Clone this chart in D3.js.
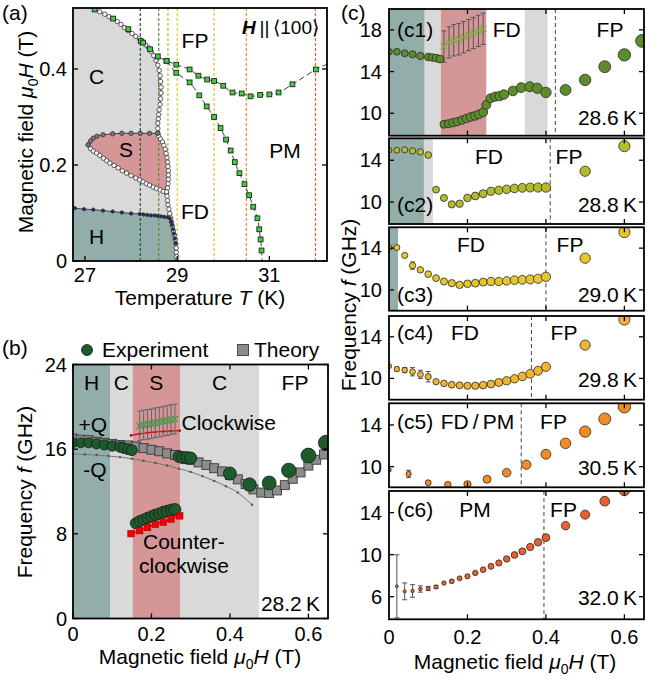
<!DOCTYPE html>
<html><head><meta charset="utf-8">
<script src="https://cdn.jsdelivr.net/npm/d3@7"></script>
<style>
body{margin:0;background:#fff}
svg{font-family:"Liberation Sans",Arial,Helvetica,sans-serif;display:block}
</style>
</head><body>
<svg id="chart" width="664" height="681"></svg>
<script>
// ---------------- DATA ----------------
// Panel (a): phase diagram (T in K, mu0H in T)
const aCUpper = [[27.21,0.524],[27.32,0.519],[27.43,0.514],[27.52,0.509],[27.61,0.505],[27.7,0.499],[27.78,0.493],[27.86,0.486],[27.94,0.480],[28.02,0.474],[28.1,0.468],[28.18,0.463],[28.25,0.457],[28.32,0.450],[28.38,0.444],[28.44,0.436],[28.49,0.428],[28.54,0.418],[28.58,0.408],[28.61,0.397],[28.63,0.386],[28.64,0.374],[28.65,0.362],[28.65,0.350],[28.64,0.338],[28.63,0.326],[28.61,0.315],[28.6,0.305],[28.59,0.296],[28.58,0.287],[28.58,0.276],[28.58,0.266]];
const aSRight = [[28.6,0.26],[28.64,0.254],[28.68,0.248],[28.71,0.241],[28.74,0.233],[28.76,0.224],[28.78,0.215],[28.79,0.206],[28.8,0.197],[28.81,0.188],[28.81,0.179],[28.81,0.170],[28.8,0.161],[28.79,0.152],[28.77,0.144]];
const aCLower = [[28.78,0.135],[28.79,0.126],[28.8,0.117],[28.82,0.108],[28.84,0.099],[28.86,0.090],[28.88,0.081],[28.9,0.072],[28.92,0.063],[28.94,0.054],[28.96,0.045],[28.97,0.036],[28.98,0.027],[28.98,0.018],[28.99,0.009],[28.99,0]];
const aSTop = [[27.07,0.242],[27.12,0.25],[27.18,0.256],[27.26,0.26],[27.39,0.263],[27.6,0.265],[27.8,0.266],[28.0,0.266],[28.2,0.266],[28.4,0.266],[28.58,0.266]];
const aSBottom = [[27.07,0.242],[27.12,0.234],[27.18,0.229],[27.25,0.225],[27.32,0.22],[27.4,0.214],[27.47,0.209],[27.54,0.204],[27.63,0.199],[27.72,0.194],[27.81,0.188],[27.9,0.183],[28.0,0.178],[28.1,0.173],[28.18,0.169],[28.26,0.165],[28.33,0.161],[28.4,0.158],[28.48,0.154],[28.55,0.151],[28.63,0.148],[28.7,0.145],[28.77,0.142]];
const aHBoundary = [[26.78,0.110],[26.98,0.108],[27.18,0.107],[27.39,0.105],[27.6,0.103],[27.8,0.101],[28.0,0.099],[28.19,0.098],[28.27,0.097],[28.35,0.096],[28.43,0.095],[28.51,0.095],[28.58,0.094],[28.65,0.093],[28.72,0.092],[28.79,0.091],[28.84,0.089],[28.87,0.082],[28.89,0.075],[28.91,0.066],[28.93,0.057],[28.95,0.047],[28.97,0.037]];
const aFP = [[27.21,0.524],[27.61,0.505],[27.94,0.483],[28.21,0.458],[28.26,0.455],[28.41,0.441],[28.58,0.426],[28.77,0.417],[28.98,0.409],[29.27,0.399],[29.46,0.386],[29.65,0.378],[29.80,0.375],[30.0,0.365],[30.20,0.351],[30.40,0.349],[30.59,0.343],[30.80,0.346],[31.0,0.347],[31.2,0.351],[31.5,0.368],[32.01,0.399]];
const aFPExt = [[32.25,0.41]];
const aFD = [[28.77,0.417],[28.98,0.392],[29.27,0.372],[29.48,0.345],[29.64,0.322],[29.80,0.300],[29.94,0.277],[30.06,0.253],[30.16,0.230],[30.25,0.206],[30.35,0.183],[30.46,0.160],[30.56,0.137],[30.65,0.113],[30.74,0.089],[30.78,0.066],[30.81,0.045],[30.83,0.022]];
const aFDExt = [[30.84,0]];
const aTempLines = [28.2, 28.6, 28.8, 29.0, 29.8, 30.5, 32.0];
const aXTicks = [27, 29, 31];
const aYTicks = [0, 0.2, 0.4];

// Panel (b): 28.2 K spectra (field T, frequency GHz)
const bPhases = [["H",0,0.095],["C",0.095,0.152],["S",0.152,0.273],["C",0.273,0.474],["FP",0.474,0.65]];
const bExpUpper = [[0.0,16.6],[0.02,16.6],[0.04,16.6],[0.06,16.5],[0.08,16.4],[0.10,16.3],[0.12,16.2],[0.13,16.1],[0.14,16.0],[0.15,15.9]];
const bExpMid = [[0.27,15.3],[0.28,15.2],[0.29,15.2],[0.30,15.15],[0.40,13.7],[0.45,12.65],[0.50,12.8],[0.55,14.0],[0.60,15.4],[0.645,16.6]];
const bExpLower = [[0.16,9.0],[0.17,9.2],[0.18,9.35],[0.19,9.5],[0.20,9.65],[0.21,9.8],[0.22,9.9],[0.23,10.05],[0.24,10.15],[0.25,10.25],[0.26,10.3]];
const bTheory = [[0.0,17.0],[0.02,16.9],[0.04,16.85],[0.06,16.7],[0.08,16.6],[0.10,16.5],[0.12,16.4],[0.14,16.35],[0.16,16.25],[0.18,16.1],[0.20,15.95],[0.22,15.8],[0.24,15.6],[0.26,15.45],[0.28,15.25],[0.30,15.0],[0.32,14.75],[0.34,14.5],[0.36,14.2],[0.38,13.9],[0.40,13.55],[0.42,13.15],[0.44,12.7],[0.46,12.2],[0.48,11.9],[0.50,11.85],[0.52,12.1],[0.54,12.6],[0.56,13.2],[0.58,13.8],[0.60,14.45],[0.62,15.0],[0.64,15.5]];
const bMinusQ = [[0,15.55],[0.03,15.5],[0.06,15.45],[0.09,15.35],[0.12,15.25],[0.15,15.1],[0.18,14.9],[0.21,14.7],[0.24,14.45],[0.27,14.15],[0.30,13.85],[0.33,13.45],[0.36,13.0],[0.39,12.5],[0.42,11.9],[0.456,10.75]];
const bCcwTheory = [[0.148,8.02],[0.17,8.3],[0.19,8.6],[0.21,8.9],[0.23,9.1],[0.25,9.4],[0.272,9.7]];
const bCwTheory = [[0.148,17.3],[0.17,17.45],[0.19,17.55],[0.21,17.62],[0.23,17.68],[0.25,17.72],[0.272,17.75]];
const bCwExp = [[0.17,18.2],[0.18,18.3],[0.19,18.35],[0.20,18.4],[0.21,18.5],[0.22,18.55],[0.23,18.65],[0.24,18.7],[0.25,18.8],[0.26,18.85]];
const bCwErr = 1.4;
const bYTicks = [0, 8, 16, 24];
const fieldTicks = [0, 0.2, 0.4, 0.6];

// Panel (c): spectra at several temperatures
const c1Main = [[0,15.9],[0.02,15.9],[0.04,15.75],[0.06,15.65],[0.08,15.5],[0.10,15.4],[0.11,15.35],[0.12,15.3],[0.13,15.2],
  [0.14,8.94],[0.152,9.0],[0.163,9.1],[0.174,9.2],[0.186,9.35],[0.197,9.5],[0.208,9.65],[0.219,9.75],[0.229,9.9],[0.24,10.1],[0.248,10.8],[0.259,11.44],[0.271,11.6],[0.282,11.65],[0.293,11.8],[0.316,12.14],[0.337,12.46],[0.359,12.55],[0.378,12.4],[0.40,12.0],
  [0.45,12.24],[0.50,13.2],[0.55,14.47],[0.60,15.6],[0.645,16.94]];
const c1Cw = [[0.14,16.4],[0.153,16.8],[0.165,17.0],[0.178,17.1],[0.19,17.3],[0.203,17.5],[0.215,17.7],[0.228,17.9],[0.24,18.1]];
const c1CwErr = 1.5;
const c2Main = [[0,14.96],[0.02,14.96],[0.04,15.0],[0.06,14.9],[0.08,14.8],[0.10,14.5],[0.12,11.19],[0.14,10.39],[0.16,9.78],[0.18,9.84],[0.20,10.39],[0.22,10.58],[0.24,10.8],[0.26,11.03],[0.28,11.13],[0.30,11.22],[0.32,11.3],[0.34,11.36],[0.36,11.39],[0.38,11.39],[0.40,11.39],[0.50,12.95],[0.60,15.35]];
const c3Main = [[0,14.06],[0.02,14.06],[0.04,13.3],[0.06,12.33],[0.08,11.92],[0.10,11.5],[0.12,11.12],[0.14,10.8],[0.16,10.64],[0.18,10.48],[0.20,10.58],[0.22,10.64],[0.24,10.74],[0.26,10.8],[0.28,10.8],[0.30,10.86],[0.32,10.93],[0.34,10.96],[0.36,11.0],[0.38,11.06],[0.40,11.25],[0.50,13.04],[0.60,15.54]];
const c3Err = [[0.06,0.35],[0.08,0.2]];
const c4Main = [[0,11.18],[0.02,10.9],[0.04,10.8],[0.06,10.64],[0.08,10.38],[0.10,10.16],[0.12,9.68],[0.14,9.52],[0.16,9.39],[0.18,9.33],[0.20,9.29],[0.22,9.29],[0.24,9.35],[0.26,9.45],[0.28,9.61],[0.30,9.77],[0.32,9.96],[0.34,10.19],[0.36,10.44],[0.38,10.73],[0.40,11.11],[0.50,13.2],[0.60,15.66]];
const c4Err = [[0.02,0.2],[0.04,0.25],[0.06,0.4],[0.08,0.4],[0.10,0.5]];
const c5Main = [[0,9.68],[0.05,9.3],[0.10,8.46],[0.15,8.27],[0.20,8.31],[0.25,8.79],[0.30,9.42],[0.35,10.19],[0.40,11.19],[0.45,12.24],[0.50,13.36],[0.55,14.58],[0.60,15.76]];
const c5Err = [[0.05,0.35],[0.10,0.15],[0.20,0.15]];
const c6Main = [[0.02,6.99],[0.04,6.51],[0.06,6.55],[0.08,6.73],[0.10,6.78],[0.12,6.93],[0.14,7.3],[0.16,7.47],[0.18,7.75],[0.20,7.94],[0.22,8.26],[0.24,8.57],[0.26,8.89],[0.28,9.21],[0.30,9.59],[0.32,9.97],[0.34,10.32],[0.36,10.73],[0.38,11.18],[0.40,11.62],[0.45,12.76],[0.50,13.81],[0.55,15.09],[0.60,16.1]];
const c6Err = [[0.02,3.0],[0.04,0.8],[0.06,0.6],[0.08,0.3],[0.10,0.2],[0.12,0.15],[0.16,0.15]];
const cTemps = ["28.6", "28.8", "29.0", "29.8", "30.5", "32.0"];

// ---------------- STYLE ----------------
const COL = {H:"#93adab", C:"#d9d9d9", S:"#d49696", FP:"#ffffff"};
const tColors = ["#1d5a2c","#5e8c2a","#b4bb2c","#e4c62e","#f0b52e","#f08c22","#e8602c"];
const FS = 21, TFS = 20;
const svg = d3.select("#chart");
const defs = svg.append("defs");
let clipId = 0;
function clip(x0,y0,x1,y1){const id="cl"+(clipId++);defs.append("clipPath").attr("id",id).append("rect").attr("x",x0).attr("y",y0).attr("width",x1-x0).attr("height",y1-y0);return "url(#"+id+")";}
function txt(g,x,y,s,o={}){return g.append("text").attr("x",x).attr("y",y).attr("text-anchor",o.anchor||"start").attr("font-size",o.size||FS).attr("font-style",o.style||null).attr("fill","#000").text(s);}
function fieldTitle(g,x,y,rot){
  const t=g.append("text").attr("font-size",21).attr("text-anchor","middle").attr("transform",`translate(${x},${y})`+(rot?" rotate(-90)":""));
  t.append("tspan").text("Magnetic field ");
  t.append("tspan").attr("font-style","italic").text("\u03BC");
  t.append("tspan").attr("font-size",14).attr("dy",5).text("0");
  t.append("tspan").attr("font-style","italic").attr("dy",-5).text("H");
  t.append("tspan").text(" (T)");
}
function freqTitle(g,x,y){
  const t=g.append("text").attr("font-size",21).attr("text-anchor","middle").attr("transform",`translate(${x},${y}) rotate(-90)`);
  t.append("tspan").text("Frequency ");
  t.append("tspan").attr("font-style","italic").text("f");
  t.append("tspan").text(" (GHz)");
}
function frameTicks(g,xs,ys,xt,yt,opt={}){
  const [x0,x1]=xs.range(), [y0,y1]=ys.range();
  const L=5;
  xt.forEach(v=>{const X=xs(v);
    g.append("line").attr("x1",X).attr("x2",X).attr("y1",y0).attr("y2",y0-L).attr("stroke","#000").attr("stroke-width",1.3);
    if(opt.top!==false) g.append("line").attr("x1",X).attr("x2",X).attr("y1",y1).attr("y2",y1+L).attr("stroke","#000").attr("stroke-width",1.3);});
  yt.forEach(v=>{const Y=ys(v);
    g.append("line").attr("x1",x0).attr("x2",x0+L).attr("y1",Y).attr("y2",Y).attr("stroke","#000").attr("stroke-width",1.3);
    g.append("line").attr("x1",x1).attr("x2",x1-L).attr("y1",Y).attr("y2",Y).attr("stroke","#000").attr("stroke-width",1.3);});
  g.append("rect").attr("x",x0).attr("y",y1).attr("width",x1-x0).attr("height",y0-y1).attr("fill","none").attr("stroke","#000").attr("stroke-width",1.8);
}

// ================= PANEL (a) =================
{
  const g=svg.append("g");
  const ax=d3.scaleLinear().domain([26.74,32.25]).range([73,327]);
  const ay=d3.scaleLinear().domain([0,0.527]).range([261,8]);
  const gc=g.append("g").attr("clip-path",clip(73,8,327,261));
  const ln=d3.line().x(d=>ax(d[0])).y(d=>ay(d[1]));
  const [T0]=ax.domain(), Hmax=ay.domain()[1];
  const cBound=[...aCUpper,...aSRight,...aCLower];
  gc.append("path").attr("d",ln([[T0,0],[T0,Hmax],[aCUpper[0][0]-0.07,Hmax],...cBound])+"Z").attr("fill",COL.C);
  gc.append("path").attr("d",ln([...aSTop,...aSRight,...aSBottom.slice().reverse()])+"Z").attr("fill",COL.S);
  gc.append("path").attr("d",ln([[T0,0],[T0,aHBoundary[0][1]],...aHBoundary,[aCLower[aCLower.length-1][0],0]])+"Z").attr("fill",COL.H);
  aTempLines.forEach((t,i)=>gc.append("line").attr("x1",ax(t)).attr("x2",ax(t)).attr("y1",ay(0)).attr("y2",ay(Hmax)).attr("stroke",tColors[i]).attr("stroke-width",1.2).attr("stroke-dasharray","3,2"));
  [cBound,aSTop,aSBottom,aHBoundary].forEach(d=>gc.append("path").attr("d",ln(d)).attr("fill","none").attr("stroke","#333").attr("stroke-width",0.9));
  const cl=d3.line().curve(d3.curveCatmullRom).x(d=>ax(d[0])).y(d=>ay(d[1]));
  gc.append("path").attr("d",cl([...aFP,...aFPExt])).attr("fill","none").attr("stroke","#444").attr("stroke-width",1).attr("stroke-dasharray","6,3");
  gc.append("path").attr("d",cl([...aFD,...aFDExt])).attr("fill","none").attr("stroke","#444").attr("stroke-width",1).attr("stroke-dasharray","6,3");
  const dots=(d,fill,r)=>gc.append("g").selectAll("circle").data(d).join("circle").attr("cx",p=>ax(p[0])).attr("cy",p=>ay(p[1])).attr("r",r).attr("fill",fill).attr("stroke","#333").attr("stroke-width",0.8);
  dots(aSBottom,"#fff",2.2); dots(cBound,"#fff",2.2); dots(aSTop,"#777",2.2); dots(aHBoundary,"#1c2c70",1.7);
  gc.append("g").selectAll("rect").data([...aFP,...aFD]).join("rect").attr("x",p=>ax(p[0])-2.4).attr("y",p=>ay(p[1])-2.4).attr("width",4.8).attr("height",4.8).attr("fill","#3fcf3f").attr("stroke","#222").attr("stroke-width",0.9);
  txt(g,96.7,83.5,"C",{anchor:"middle"}); txt(g,126,157,"S",{anchor:"middle"}); txt(g,96.7,243.5,"H",{anchor:"middle"});
  txt(g,195,47.5,"FP",{anchor:"middle"}); txt(g,285,157.5,"PM",{anchor:"middle"}); txt(g,195,218.5,"FD",{anchor:"middle"});
  const ht=g.append("text").attr("x",319).attr("y",33.5).attr("text-anchor","end").attr("font-size",19);
  ht.append("tspan").attr("font-weight","bold").attr("font-style","italic").text("H");
  ht.append("tspan").text("\u2009||\u2009\u27E8100\u27E9");
  frameTicks(g,ax,ay,aXTicks,aYTicks,{top:false});
  aYTicks.forEach(v=>txt(g,67,ay(v)+7,v===0?"0":d3.format(".1f")(v),{anchor:"end",size:TFS}));
  aXTicks.forEach(v=>txt(g,ax(v),282,String(v),{anchor:"middle",size:TFS}));
  const tt=g.append("text").attr("x",200).attr("y",304.5).attr("text-anchor","middle").attr("font-size",21);
  tt.append("tspan").text("Temperature "); tt.append("tspan").attr("font-style","italic").text("T"); tt.append("tspan").text(" (K)");
  fieldTitle(g,33,132,true);
  txt(g,2,20,"(a)",{size:21});
}

// ================= PANEL (b) =================
{
  const g=svg.append("g");
  const bx=d3.scaleLinear().domain([0,0.65]).range([73,328]);
  const by=d3.scaleLinear().domain([0,24]).range([618.5,364.5]);
  const gc=g.append("g").attr("clip-path",clip(73,364.5,328,618.5));
  bPhases.forEach(p=>gc.append("rect").attr("x",bx(p[1])).attr("y",by(24)).attr("width",bx(p[2])-bx(p[1])).attr("height",by(0)-by(24)).attr("fill",COL[p[0]]));
  const ln=d3.line().curve(d3.curveCatmullRom).x(d=>bx(d[0])).y(d=>by(d[1]));
  gc.append("path").attr("d",ln(bMinusQ)).attr("fill","none").attr("stroke","#777").attr("stroke-width",1);
  gc.append("g").selectAll("circle").data(bMinusQ).join("circle").attr("cx",d=>bx(d[0])).attr("cy",d=>by(d[1])).attr("r",1.2).attr("fill","#555");
  gc.append("g").selectAll("rect").data(bTheory).join("rect").attr("x",d=>bx(d[0])-4.5).attr("y",d=>by(d[1])-4.5).attr("width",9).attr("height",9).attr("fill","#8c8c8c").attr("stroke","#3a3a3a").attr("stroke-width",0.9);
  const rB=d3.scaleLinear().domain([0,0.6]).range([4.8,7.4]);
  gc.append("g").selectAll("circle").data([...bExpUpper,...bExpMid,...bExpLower]).join("circle").attr("cx",d=>bx(d[0])).attr("cy",d=>by(d[1])).attr("r",d=>rB(d[0])).attr("fill","#1d5a2c").attr("stroke","#1a1a1a").attr("stroke-width",0.8);
  gc.append("path").attr("d",ln(bCcwTheory)).attr("fill","none").attr("stroke","#e00000").attr("stroke-width",1.2);
  gc.append("g").selectAll("rect").data(bCcwTheory).join("rect").attr("x",d=>bx(d[0])-3.3).attr("y",d=>by(d[1])-3.3).attr("width",6.6).attr("height",6.6).attr("fill","#f00000").attr("stroke","#900").attr("stroke-width",0.5);
  gc.append("path").attr("d",ln(bCwTheory)).attr("fill","none").attr("stroke","#e00000").attr("stroke-width",1.2);
  gc.append("g").selectAll("circle").data(bCwTheory).join("circle").attr("cx",d=>bx(d[0])).attr("cy",d=>by(d[1])).attr("r",1.3).attr("fill","#c00");
  const ge=gc.append("g").attr("stroke","#666").attr("stroke-width",1);
  bCwExp.forEach(d=>{const X=bx(d[0]),y1=by(d[1]+bCwErr),y2=by(d[1]-bCwErr);
    ge.append("line").attr("x1",X).attr("x2",X).attr("y1",y1).attr("y2",y2);
    ge.append("line").attr("x1",X-2.5).attr("x2",X+2.5).attr("y1",y1).attr("y2",y1);
    ge.append("line").attr("x1",X-2.5).attr("x2",X+2.5).attr("y1",y2).attr("y2",y2);});
  const gx=gc.append("g").attr("stroke","#4f9a4a").attr("stroke-width",1.3);
  bCwExp.forEach(d=>{const X=bx(d[0]),Y=by(d[1]),s=3.2;
    gx.append("line").attr("x1",X-s).attr("x2",X+s).attr("y1",Y-s).attr("y2",Y+s);
    gx.append("line").attr("x1",X-s).attr("x2",X+s).attr("y1",Y+s).attr("y2",Y-s);});
  bPhases.forEach(p=>txt(g,p[0]==="FP"?295:bx((p[1]+p[2])/2),390,p[0],{anchor:"middle"}));
  txt(g,92.7,432,"+Q",{anchor:"middle"}); txt(g,95,477,"-Q",{anchor:"middle"});
  txt(g,181.5,429.5,"Clockwise"); txt(g,143,548.5,"Counter-"); txt(g,139,573,"clockwise");
  txt(g,320,610.5,"28.2\u2009K",{anchor:"end"});
  frameTicks(g,bx,by,fieldTicks,bYTicks);
  bYTicks.forEach(v=>txt(g,67,by(v)+7,String(v),{anchor:"end",size:TFS}));
  fieldTicks.forEach(v=>txt(g,bx(v),640.5,v===0?"0":d3.format(".1f")(v),{anchor:"middle",size:TFS}));
  fieldTitle(g,200,664,false);
  freqTitle(g,32,492);
  g.append("circle").attr("cx",87).attr("cy",350).attr("r",5.5).attr("fill","#1d5a2c").attr("stroke","#1a1a1a").attr("stroke-width",0.8);
  txt(g,102,357,"Experiment");
  g.append("rect").attr("x",237.5).attr("y",344.5).attr("width",11).attr("height",11).attr("fill","#8c8c8c").attr("stroke","#3a3a3a").attr("stroke-width",0.9);
  txt(g,254,357,"Theory");
  txt(g,2,355,"(b)",{size:21});
}

// ================= PANEL (c) =================
{
  const cx=d3.scaleLinear().domain([0,0.65]).range([389,644]);
  const panels=[
    {name:"c1",top:9,bottom:135.7,dom:[7.85,20],yt:[10,14,18],data:c1Main,err:[],col:tColors[1],r:[3.3,6.2],
     regions:[["H",0,0.091],["C",0.091,0.132],["S",0.132,0.248],["C",0.346,0.404]],dash:0.424,
     labels:[["(c1)",397,36.5,"start"],["FD",506.7,36.5,"middle"],["FP",610,36.5,"middle"]],tY:125},
    {name:"c2",top:138.3,bottom:224,dom:[7.9,16.1],yt:[10,14],data:c2Main,err:[],col:tColors[2],r:[2.9,5.6],
     regions:[["H",0,0.089],["C",0.089,0.112]],dash:0.411,
     labels:[["(c2)",397,211.5,"start"],["FD",489,163.5,"middle"],["FP",569,163.5,"middle"]],tY:211.5},
    {name:"c3",top:227.3,bottom:310.7,dom:[8.0,16.0],yt:[10,14],data:c3Main,err:c3Err,col:tColors[3],r:[2.9,5.6],
     regions:[["H",0,0.023]],dash:0.40,
     labels:[["(c3)",397,301.5,"start"],["FD",471,251.5,"middle"],["FP",570,251.5,"middle"]],tY:301.5},
    {name:"c4",top:316,bottom:399.7,dom:[7.95,16.0],yt:[10,14],data:c4Main,err:c4Err,col:tColors[4],r:[2.6,5.6],
     regions:[],dash:0.363,
     labels:[["(c4)",397,340,"start"],["FD",465,340,"middle"],["FP",564,340,"middle"]],tY:386.5},
    {name:"c5",top:403.3,bottom:487.3,dom:[8.02,16.08],yt:[10,14],data:c5Main,err:c5Err,col:tColors[5],r:[2.3,6.3],
     regions:[],dash:0.337,
     labels:[["(c5)",397,428.5,"start"],["FD\u2009/\u2009PM",477.5,428.5,"middle"],["FP",553.5,428.5,"middle"]],tY:475},
    {name:"c6",top:491,bottom:619.3,dom:[3.85,16.06],yt:[6,10,14],data:c6Main,err:c6Err,col:tColors[6],r:[1.3,5.2],
     regions:[],dash:0.395,
     labels:[["(c6)",397,516.5,"start"],["PM",475,516.5,"middle"],["FP",563.5,516.5,"middle"]],tY:605},
  ];
  panels.forEach((p,i)=>{
    const g=svg.append("g");
    const cy=d3.scaleLinear().domain(p.dom).range([p.bottom,p.top]);
    const gc=g.append("g").attr("clip-path",clip(389,p.top,644,p.bottom));
    p.regions.forEach(r=>gc.append("rect").attr("x",cx(r[1])).attr("y",p.top).attr("width",cx(r[2])-cx(r[1])).attr("height",p.bottom-p.top).attr("fill",COL[r[0]]));
    gc.append("line").attr("x1",cx(p.dash)).attr("x2",cx(p.dash)).attr("y1",p.top).attr("y2",p.bottom).attr("stroke","#444").attr("stroke-width",1).attr("stroke-dasharray","4,3");
    const ge=gc.append("g").attr("stroke","#555").attr("stroke-width",1);
    p.err.forEach(e=>{const d=p.data.find(q=>Math.abs(q[0]-e[0])<1e-6); if(!d) return;
      const X=cx(d[0]),y1=cy(d[1]+e[1]),y2=cy(d[1]-e[1]);
      ge.append("line").attr("x1",X).attr("x2",X).attr("y1",y1).attr("y2",y2);
      ge.append("line").attr("x1",X-2.5).attr("x2",X+2.5).attr("y1",y1).attr("y2",y1);
      ge.append("line").attr("x1",X-2.5).attr("x2",X+2.5).attr("y1",y2).attr("y2",y2);});
    if(p.name==="c1"){
      const g2=gc.append("g").attr("stroke","#555").attr("stroke-width",1);
      c1Cw.forEach(d=>{const X=cx(d[0]),y1=cy(d[1]+c1CwErr),y2=cy(d[1]-c1CwErr);
        g2.append("line").attr("x1",X).attr("x2",X).attr("y1",y1).attr("y2",y2);
        g2.append("line").attr("x1",X-2.5).attr("x2",X+2.5).attr("y1",y1).attr("y2",y1);
        g2.append("line").attr("x1",X-2.5).attr("x2",X+2.5).attr("y1",y2).attr("y2",y2);});
      const gx=gc.append("g").attr("stroke","#86a84a").attr("stroke-width",1.3);
      c1Cw.forEach(d=>{const X=cx(d[0]),Y=cy(d[1]),s=3.2;
        gx.append("line").attr("x1",X-s).attr("x2",X+s).attr("y1",Y-s).attr("y2",Y+s);
        gx.append("line").attr("x1",X-s).attr("x2",X+s).attr("y1",Y+s).attr("y2",Y-s);});
    }
    const rs=d3.scaleLinear().domain([0,0.6]).range(p.r);
    gc.append("g").selectAll("circle").data(p.data).join("circle").attr("cx",d=>cx(d[0])).attr("cy",d=>cy(d[1])).attr("r",d=>rs(d[0])).attr("fill",p.col).attr("stroke","#2a2a2a").attr("stroke-width",0.8);
    p.labels.forEach(l=>txt(g,l[1],l[2],l[0],{anchor:l[3]}));
    txt(g,637,p.tY,cTemps[i]+"\u2009K",{anchor:"end"});
    frameTicks(g,cx,cy,[0.2,0.4,0.6],p.yt);
    p.yt.forEach(v=>txt(g,382,cy(v)+7,String(v),{anchor:"end",size:TFS}));
  });
  const g=svg.append("g");
  fieldTicks.forEach(v=>txt(g,cx(v),643.5,v===0?"0":d3.format(".1f")(v),{anchor:"middle",size:TFS}));
  fieldTitle(g,515,669,false);
  freqTitle(g,356,305);
  txt(g,341,20,"(c)",{size:21});
}
</script>
</body></html>
